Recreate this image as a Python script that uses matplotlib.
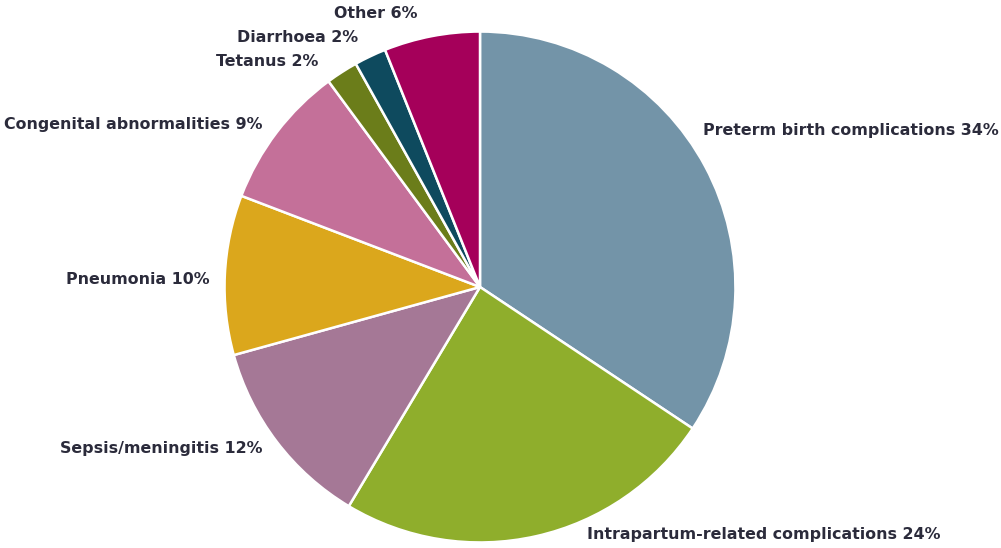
import matplotlib
matplotlib.use("Agg")
import matplotlib.pyplot as plt

categories = ["Preterm birth complications", "Intrapartum-related complications",
              "Sepsis/meningitis", "Pneumonia", "Congenital abnormalities",
              "Tetanus", "Diarrhoea", "Other"]
values = [34, 24, 12, 10, 9, 2, 2, 6]
colors = ["#7394a8", "#8fae2c", "#a57896", "#dba71c", "#c47099",
          "#6b7d1a", "#0e4a5e", "#a5005a"]

W, H = 1001, 548
fig = plt.figure(figsize=(W / 100, H / 100), dpi=100)
cx, cy, r = 480, 287, 258
ax = fig.add_axes([(cx - r) / W, (H - cy - r) / H, 2 * r / W, 2 * r / H])
ax.pie(values, colors=colors, startangle=90, counterclock=False, radius=1,
       wedgeprops=dict(edgecolor="white", linewidth=1.8))
ax.set_xlim(-1.01, 1.01)
ax.set_ylim(-1.01, 1.01)
ax.set_aspect("equal")
ax.axis("off")

# label anchor (pixel x, pixel y, ha)
label_pos = {
    "Preterm birth complications": (703, 131, "left"),
    "Intrapartum-related complications": (587, 535, "left"),
    "Sepsis/meningitis": (262, 449, "right"),
    "Pneumonia": (210, 280, "right"),
    "Congenital abnormalities": (262, 124, "right"),
    "Tetanus": (318, 61, "right"),
    "Diarrhoea": (358, 37, "right"),
    "Other": (418, 14, "right"),
}
for cat, v in zip(categories, values):
    x, y, ha = label_pos[cat]
    fig.text(x / W, 1 - y / H, f"{cat} {v}%", ha=ha, va="center",
             fontsize=11.4, fontweight="bold", family=["DejaVu Sans"],
             color="#2b2b3b")

fig.savefig("out.png", dpi=100, facecolor="white")
